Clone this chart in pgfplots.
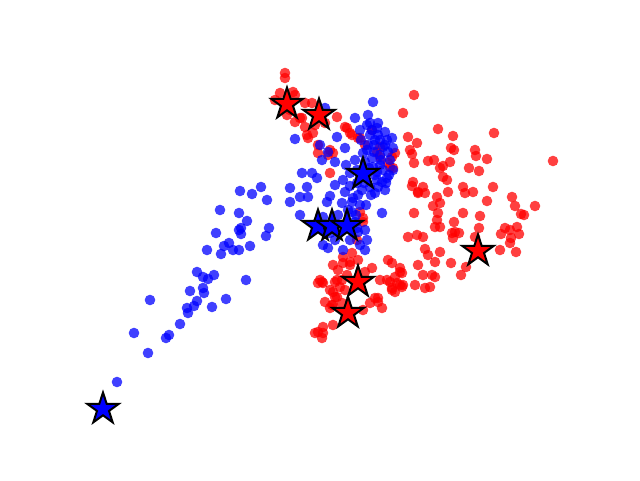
\documentclass[border=0pt]{standalone}
\usepackage{pgfplots}
\usepackage{pgfplotstable}
\pgfplotsset{compat=1.18}

% filled five-point star like matplotlib's '*' marker
\pgfdeclareplotmark{fstar}{%
  \pgfpathmoveto{\pgfqpointpolar{90}{\pgfplotmarksize}}%
  \pgfpathlineto{\pgfqpointpolar{126}{0.382\pgfplotmarksize}}%
  \pgfpathlineto{\pgfqpointpolar{162}{\pgfplotmarksize}}%
  \pgfpathlineto{\pgfqpointpolar{198}{0.382\pgfplotmarksize}}%
  \pgfpathlineto{\pgfqpointpolar{234}{\pgfplotmarksize}}%
  \pgfpathlineto{\pgfqpointpolar{270}{0.382\pgfplotmarksize}}%
  \pgfpathlineto{\pgfqpointpolar{306}{\pgfplotmarksize}}%
  \pgfpathlineto{\pgfqpointpolar{342}{0.382\pgfplotmarksize}}%
  \pgfpathlineto{\pgfqpointpolar{18}{\pgfplotmarksize}}%
  \pgfpathlineto{\pgfqpointpolar{54}{0.382\pgfplotmarksize}}%
  \pgfpathclose
  \pgfusepathqfillstroke
}
% fill-only dot (no edge)
\pgfdeclareplotmark{fdot}{%
  \pgfpathcircle{\pgfpointorigin}{\pgfplotmarksize}%
  \pgfusepathqfill
}

\pgfplotstableread{
x y
261 187
240 191
252 194
267 200
220 210
239 213
247 221
269 228
239 230
241 228
241 234
266 236
216 233
229 243
224 246
250 246
207 250
221 254
233 250
239 250
197 272
214 275
203 277
208 279
246 280
190 291
203 288
204 293
197 301
150 300
226 299
187 308
188 313
194 306
212 307
180 324
134 333
166 338
169 335
148 353
117 382
373 102
355 118
325 108
295 139
337 137
345 148
360 130
370 123
378 123
385 132
392 138
393 148
320 145
328 152
322 160
335 162
302 173
312 173
317 178
307 187
290 188
350 173
357 183
375 193
387 178
290 202
300 197
300 215
382 213
323 217
338 215
348 210
352 202
367 240
365 250
323 245
328 248
343 250
342 203
327 202
308 197
358 232
367 125
377 128
387 140
380 140
370 135
368 145
383 147
363 153
390 160
373 167
383 170
357 170
377 180
382 182
370 187
353 198
380 155
372 158
365 162
375 175
360 178
385 190
362 190
355 160
368 115
375 140
365 175
380 165
388 152
393 170
350 186
345 192
360 205
355 222
356 215
365 230
350 240
335 240
360 245
330 233
343 180
335 185
330 196
372 130
378 135
385 145
367 150
374 152
381 160
369 168
377 172
386 183
364 183
371 195
358 195
352 212
346 165
361 140
374 145
389 175
378 187
366 205
357 228
}\bluedata

\pgfplotstableread{
x y
285 73
285 78
280 93
293 92
295 95
305 103
312 103
287 115
295 122
302 118
305 127
307 135
308 138
313 133
337 117
347 128
350 133
360 138
372 130
318 145
318 153
328 155
333 153
325 123
300 118
275 100
290 110
315 125
330 173
330 150
345 127
352 135
358 138
380 157
390 167
395 153
388 163
392 157
377 152
380 147
393 168
365 145
360 212
363 218
363 222
414 95
403 113
438 129
453 136
494 133
408 137
417 143
410 150
412 154
451 148
454 150
475 150
476 156
487 159
553 161
414 163
428 161
434 160
450 162
440 168
443 166
469 168
479 171
443 177
447 180
413 182
412 186
423 187
425 193
418 192
448 192
463 187
465 193
473 192
493 187
437 197
440 203
433 206
487 201
512 197
515 206
535 206
414 213
438 213
437 220
435 227
463 213
480 216
521 214
524 215
454 222
440 227
479 228
505 228
510 230
517 227
408 237
417 235
423 237
452 233
455 232
459 233
453 238
475 237
501 234
511 238
519 234
510 243
500 250
516 252
425 249
428 255
440 252
388 260
392 263
418 265
435 262
451 263
466 267
400 268
402 273
423 275
432 275
435 277
461 275
387 280
397 283
403 285
415 285
425 288
430 287
392 288
395 292
402 287
418 193
357 240
343 257
352 253
350 262
358 260
333 265
372 268
365 272
380 280
390 282
395 277
320 280
323 283
337 280
330 290
335 297
332 305
342 303
375 298
378 302
382 308
323 327
333 325
350 265
343 263
318 283
322 282
335 282
340 287
333 292
337 297
342 280
400 272
392 290
400 285
325 302
330 308
333 305
370 303
363 310
378 298
318 332
323 333
322 338
315 333
338 270
345 290
347 275
}\reddata

\begin{document}
\begin{tikzpicture}
\begin{axis}[
  hide axis,
  scale only axis,
  width=640pt, height=480pt,
  xmin=0, xmax=640, ymin=0, ymax=480,
  y dir=reverse,
  clip=false
]
\path (rel axis cs:0,0) rectangle (rel axis cs:1,1);
\addplot[only marks, mark=fdot, mark size=5.3pt,
  mark options={fill=red, opacity=0.75}] table {\reddata};
\addplot[only marks, mark=fdot, mark size=5.3pt,
  mark options={fill=blue, opacity=0.75}] table {\bluedata};
% cluster centres
\addplot[only marks, mark=fstar, mark size=16.5pt,
  mark options={draw=black, fill=blue, line width=2pt, line join=miter}] coordinates {
(103,409) (363,174) (318,226) (332,226) (347,226)};
\addplot[only marks, mark=fstar, mark size=16.5pt,
  mark options={draw=black, fill=red, line width=2pt, line join=miter}] coordinates {
(287,104) (319,115) (478,251) (358,282) (348,313)};
\end{axis}
\end{tikzpicture}
\end{document}
